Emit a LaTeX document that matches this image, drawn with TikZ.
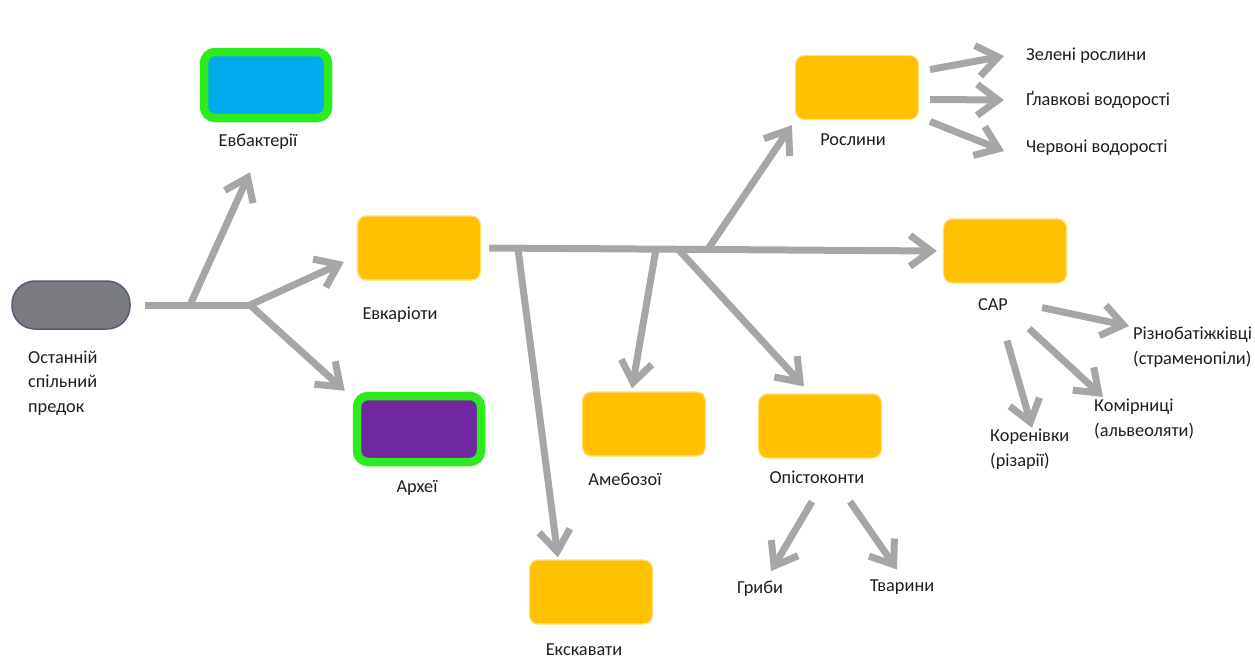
\documentclass[tikz,border=0pt]{standalone}
\usepackage{fontspec}
\setmainfont{Carlito}
\usetikzlibrary{arrows.meta,calc}
\definecolor{ybox}{RGB}{255,192,0}
\definecolor{yedge}{RGB}{255,222,120}
\definecolor{garr}{RGB}{166,166,166}
\definecolor{gbright}{RGB}{45,235,30}
\definecolor{bblue}{RGB}{0,172,238}
\definecolor{purp}{RGB}{112,40,160}
\definecolor{pillfill}{RGB}{122,124,130}
\definecolor{pilledge}{RGB}{82,94,110}
\definecolor{txt}{RGB}{30,30,30}
\begin{document}
\begin{tikzpicture}[x=1pt,y=-1pt,
  ybx/.style={fill=ybox, draw=yedge, line width=1.2pt, rounded corners=9pt, minimum width=123pt, minimum height=64pt, inner sep=0pt},
  gbx/.style={draw=gbright, line width=8.5pt, rounded corners=11pt, minimum width=124pt, minimum height=66pt, inner sep=0pt},
  lbl/.style={font=\fontsize{18.3}{24.5}\selectfont, text=txt, inner sep=0pt},
  lbll/.style={lbl, align=left, anchor=west},
  ln/.style={draw=garr, line width=7pt},
  arr/.style={ln, -{Straight Barb[length=21pt,width=31pt]}}]
\useasboundingbox (0,0) rectangle (1255,664);

% boxes
\node[fill=pillfill, draw=pilledge, line width=1.5pt, rounded corners=23pt, minimum width=118pt, minimum height=48pt, inner sep=0pt] (lca) at (71,305) {};
\node[gbx, fill=bblue] (eub) at (266,85) {};
\node[gbx, fill=purp] (arc) at (419,429) {};
\node[ybx] (euk) at (419,248) {};
\node[ybx] (ros) at (857,87.5) {};
\node[ybx] (sar) at (1005,251) {};
\node[ybx] (amo) at (644,424) {};
\node[ybx] (opi) at (820,426) {};
\node[ybx] (exc) at (591,592) {};

% labels
\node[lbll] (llca) at (28,383) {Останній\\спільний\\предок};
\node[lbl] (leub) at (258,142) {Евбактерії};
\node[lbl] (larc) at (417,488) {Археї};
\node[lbl] (leuk) at (400,315) {Евкаріоти};
\node[lbl] (lros) at (853,140) {Рослини};
\node[lbl] (lsar) at (993,305) {САР};
\node[lbl] (lamo) at (625,479) {Амебозої};
\node[lbl] (lopi) at (817,477) {Опістоконти};
\node[lbl] (lexc) at (584,650) {Екскавати};
\node[lbll] (lg1) at (1026,56) {Зелені рослини};
\node[lbll] (lg2) at (1026,100) {Ґлавкові водорості};
\node[lbll] (lg3) at (1026,148) {Червоні водорості};
\node[lbll] (ls1) at (1133,347) {Різнобатіжківці\\(страменопіли)};
\node[lbll] (ls2) at (1094,419) {Комірниці\\(альвеоляти)};
\node[lbll] (ls3) at (990,449) {Коренівки\\(різарії)};
\node[lbl] (lo1) at (760,589) {Гриби};
\node[lbl] (lo2) at (902,587) {Тварини};

% junctions
\coordinate (j1) at (190,305);
\coordinate (j2) at (250,305);
\coordinate (m1) at (518,249);
\coordinate (m2) at (656,249);
\coordinate (m3) at (678,249);
\coordinate (m4) at (708,249);

% connectors
\draw[ln] ($(lca.east)+(14,0)$) -- (j2);
\draw[arr] (j1) -- ($(eub.south)+(-16,50)$);
\draw[arr] (j2) -- ($(euk.west)+(-13,14)$);
\draw[arr] (j2) -- ($(arc.north west)+(-8,-1)$);
\draw[arr] ($(euk.east)+(8,0)$) -- ($(sar.west)+(-6,0)$);
\draw[arr] (m1) -- ($(exc.north)+(-33,-2)$);
\draw[arr] (m2) -- ($(amo.north)+(-12,-3)$);
\draw[arr] (m3) -- ($(opi.north)+(-16,-7)$);
\draw[arr] (m4) -- ($(ros.south west)+(-3,5)$);
\draw[arr] ($(ros.east)+(11,-18)$) -- ($(lg1.west)+(-22,0)$);
\draw[arr] ($(ros.east)+(11,12)$) -- ($(lg2.west)+(-22,0)$);
\draw[arr] ($(ros.east)+(11,34)$) -- ($(lg3.west)+(-22,3)$);
\draw[arr] ($(sar.south)+(37,24)$) -- ($(ls1.west)+(-4,-21)$);
\draw[arr] ($(sar.south)+(24,45)$) -- ($(ls2.north west)+(9,-2)$);
\draw[arr] ($(sar.south)+(2,57)$) -- ($(ls3.north west)+(42,-1)$);
\draw[arr] ($(opi.south)+(-8,43)$) -- ($(lo1.north)+(11,-10)$);
\draw[arr] ($(opi.south)+(30,43)$) -- ($(lo2.north)+(-5,-10)$);
\end{tikzpicture}
\end{document}
